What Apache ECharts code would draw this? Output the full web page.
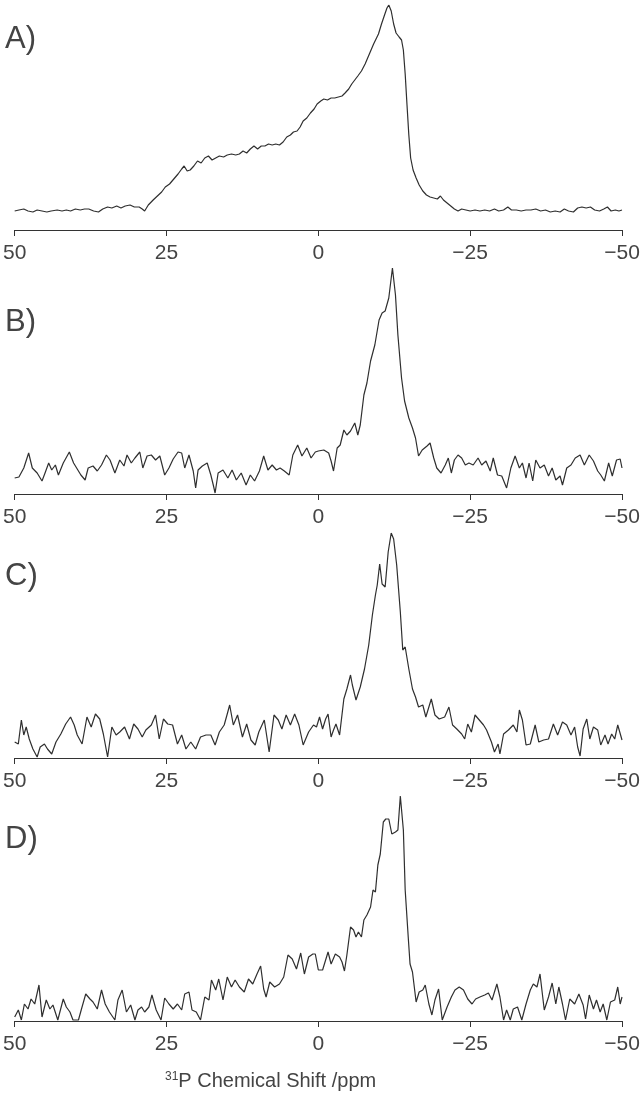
<!DOCTYPE html>
<html style="width:100%;height:100%;">
<head>
<meta charset="utf-8">
<title>31P spectra</title>
<script src="https://cdn.jsdelivr.net/npm/echarts@6/dist/echarts.min.js"></script>
<style>
  html, body { margin: 0; padding: 0; background: #ffffff; }
  #chart { width: 643px; height: 1098px; }
</style>
</head>
<body>
<div id="chart"></div>
<script>
// chemical shift (ppm) and intensity (a.u.)
const ppmA = [50,49.3,48.5,47.8,47,46.3,45.5,44.7,44,43,42.2,41.5,40.8,40,39.2,38.5,37.8,37,36.2,35.5,34.7,34,33.2,32.5,31.8,31,30.3,29.5,29,28.6,28,27.2,26.5,25.8,25.2,24.5,23.8,23.1,22.5,22.1,21.6,21.1,20.5,19.9,19.3,18.7,18.1,17.5,16.9,16.3,15.6,15,14.3,13.6,13,12.4,11.8,11.2,10.6,10,9.4,8.8,8.2,7.6,7,6.4,5.8,5.2,4.6,4.1,3.5,3,2.5,1.9,1.3,0.7,0.2,-0.4,-0.9,-1.5,-2.1,-2.7,-3.3,-3.9,-4.4,-5,-5.5,-6,-6.5,-7.1,-7.7,-8.4,-9.1,-9.9,-10.4,-10.9,-11.3,-11.6,-12,-12.4,-12.8,-13.3,-13.7,-14,-14.3,-14.6,-14.9,-15.2,-15.6,-16.1,-16.6,-17.2,-17.8,-18.4,-19,-19.6,-20.1,-20.6,-21.2,-21.8,-22.4,-23,-23.6,-24.3,-25,-25.8,-26.6,-27.4,-28.2,-29,-29.7,-30.5,-31.2,-31.8,-32.6,-33.4,-34.2,-35,-35.8,-36.6,-37.4,-38.2,-39,-39.8,-40.5,-41.2,-42,-42.7,-43.4,-44.1,-44.8,-45.5,-46.3,-47,-47.6,-48.2,-48.9,-49.5,-50];
const intA = [19,20,21,19,18,20,19,18,19,20,19,20,19,21,20,21,21,19,18,21,23,22,24,22,24,25,23,23,21,19,25,30,34,38,43,46,51,56,61,64,59,60,64,69,67,72,74,70,72,74,73,75,76,75,76,79,77,81,84,81,84,84,86,85,86,85,88,93,95,98,99,103,109,112,117,121,126,129,131,130,132,132,133,134,137,141,146,150,154,159,166,176,186,196,206,215,222,225,219,206,197,193,190,180,156,125,95,72,60,52,45,39,35,33,32,31,34,30,27,24,21,19,21,20,19,20,19,20,19,21,19,20,23,20,20,19,20,20,21,19,20,18,19,18,21,19,18,22,23,22,23,20,19,21,23,19,20,19,20];

const ppmB = [50,49.3,48.5,47.7,47.1,46.3,45.5,45,44.4,43.9,43.3,42.8,42,41,40.3,39.8,39.1,38.4,37.9,37.1,36.4,35.7,34.9,34.3,33.5,32.7,32,31.5,30.8,30.2,29.4,28.9,28.2,27.5,26.8,26.1,25.3,24.6,23.9,23.1,22.5,22,21.3,20.6,20.2,19.8,19.1,18.3,17.7,17.3,17,16.5,15.7,14.9,14.2,13.5,12.7,11.9,11.2,10.5,9.7,9,8.3,7.6,6.9,6.3,5.6,4.8,4.2,3.4,2.7,1.9,1.2,0.5,0,-0.9,-1.7,-2.1,-2.5,-3.1,-3.6,-4.2,-4.7,-5.3,-6,-6.5,-6.9,-7.5,-8,-8.6,-9.3,-10,-10.5,-11,-11.6,-12.2,-12.7,-13.1,-13.7,-14.2,-14.9,-15.5,-16,-16.5,-17.1,-17.9,-18.4,-19,-19.5,-20.2,-20.9,-21.4,-21.9,-22.4,-23,-23.6,-24.2,-24.8,-25.5,-26.3,-26.9,-27.6,-28.3,-28.8,-29.5,-30.2,-31,-31.7,-32.4,-33.1,-33.6,-34.2,-34.7,-35.3,-35.8,-36.5,-37.2,-37.9,-38.5,-39.1,-39.8,-40.2,-40.9,-41.6,-42.3,-43.1,-43.8,-44.6,-45.3,-46,-46.5,-47.1,-47.8,-48.4,-49.1,-49.7,-50];
const intB = [16,17,26,41,26,21,13,21,31,24,29,19,31,42,31,26,19,14,26,28,23,29,39,34,21,34,28,39,31,36,42,26,38,39,34,38,19,26,35,42,41,26,39,23,6,24,28,31,19,9,1,21,24,16,24,14,21,9,19,13,23,38,24,29,24,26,23,19,39,49,38,46,36,42,43,44,41,33,23,46,49,64,59,63,71,59,69,99,111,133,149,174,181,183,196,226,199,159,116,93,76,66,56,38,44,48,51,36,26,21,29,36,21,34,39,36,29,31,29,36,29,33,23,36,19,18,6,26,38,26,31,16,31,13,34,26,29,18,26,14,18,9,26,29,36,39,29,39,33,23,19,13,31,18,34,35,26];

const ppmC = [50,49.4,48.9,48.5,48.1,47.6,47,46.3,45.8,45.1,44.6,43.9,43.2,42.4,41.6,40.8,40.2,39.7,38.9,38.1,37.4,36.7,36,35.4,34.7,34,33.3,32.7,31.9,31.1,30.4,29.7,29,28.4,27.5,26.8,26.2,25.5,24.8,24,23.2,22.5,21.8,21,20.2,19.4,18.5,17.7,17,16.3,15.5,15,14.6,14,13.3,12.5,11.8,11.1,10.4,9.8,8.9,8.1,7.3,6.6,6,5.3,4.6,3.9,3.2,2.5,1.6,0.8,0.3,-0.2,-0.7,-1.2,-1.6,-2.1,-2.5,-2.9,-3.5,-4.2,-4.7,-5.3,-5.6,-6.2,-6.9,-7.6,-8.3,-8.9,-9.4,-9.7,-10.1,-10.5,-11,-11.5,-12,-12.4,-12.9,-13.5,-13.9,-14.3,-14.9,-15.5,-16,-16.5,-17.2,-17.7,-18.6,-19.2,-19.9,-20.8,-21.5,-22.1,-22.8,-23.6,-24.1,-24.6,-25.2,-25.8,-26.5,-27.2,-27.7,-28.5,-29,-29.6,-29.9,-30.5,-31.3,-32.1,-32.7,-33.1,-33.6,-34.2,-34.9,-35.7,-36.3,-37.1,-37.9,-38.7,-39.4,-40.2,-40.9,-41.6,-42.2,-42.7,-43.1,-43.6,-44.2,-44.7,-45.3,-46,-46.5,-47.2,-47.7,-48.3,-48.8,-49.3,-50];
const intC = [16,14,38,23,31,19,9,1,11,14,9,4,16,24,34,41,33,23,14,41,31,44,39,24,1,31,23,26,31,19,34,29,21,28,33,43,19,39,34,33,14,23,9,16,9,21,23,23,13,26,33,44,53,33,43,21,34,18,13,26,38,6,43,38,29,43,33,44,33,13,26,33,31,41,29,39,44,21,28,34,23,59,69,83,73,58,71,89,113,143,163,173,194,174,171,206,225,219,193,146,108,111,89,69,61,51,53,41,59,43,39,41,51,33,29,24,19,34,26,43,38,33,28,16,6,14,4,24,28,33,26,48,38,13,14,33,16,18,19,34,23,36,33,23,31,11,2,29,39,19,31,28,13,23,14,24,19,33,18];

const ppmD = [50,49.4,48.9,48.4,47.8,47.3,46.7,46,45.5,44.8,44.2,43.7,42.9,42,41.5,40.9,40.4,39.5,39,38.3,37.6,37.1,36.4,35.7,35.1,34.4,33.5,33,32.3,31.6,30.9,30.2,29.7,29.1,28.6,27.9,27.4,26.7,25.9,25.3,24.6,23.9,23.2,22.5,22,21.3,20.8,20.1,19.4,18.7,18,17.6,16.9,16.4,15.7,15,14.3,13.7,13,12.2,11.5,10.8,10.1,9.5,9,8.6,8,7.2,6.4,5.7,5,4.3,3.6,2.9,2.3,1.6,0.9,0.5,0,-0.7,-1.6,-2.1,-2.8,-3.5,-3.9,-4.3,-4.7,-5.3,-5.8,-6.2,-6.6,-7.1,-7.5,-8,-8.6,-9,-9.4,-9.8,-10.2,-10.7,-11.1,-11.6,-12.1,-12.7,-13.1,-13.5,-14,-14.3,-14.8,-15.1,-15.5,-16.1,-16.6,-17.2,-17.6,-18.2,-18.7,-19.2,-19.8,-20.4,-21.2,-21.9,-22.5,-23.2,-23.9,-24.6,-25.3,-25.9,-26.6,-27.4,-28,-28.6,-29.4,-29.9,-30.5,-31,-31.6,-32.1,-32.8,-33.5,-34.2,-34.9,-35.4,-36,-36.5,-37.2,-37.9,-38.5,-39.1,-39.6,-40.2,-40.7,-41.4,-42.2,-42.9,-43.6,-44,-44.6,-45.3,-45.8,-46.4,-46.9,-47.5,-48.1,-48.8,-49.3,-49.7,-50];
const intD = [4,11,1,17,12,22,17,36,4,21,12,16,1,22,14,9,1,1,12,27,22,19,12,31,17,9,1,21,31,9,16,1,11,14,9,14,26,11,1,23,17,12,17,11,27,29,11,9,1,24,21,41,31,42,21,44,34,41,34,29,42,37,47,55,32,24,39,34,37,44,66,62,52,68,47,64,67,67,51,51,69,57,67,64,59,50,66,94,91,84,89,84,101,106,114,131,129,156,167,199,202,202,187,189,191,225,191,131,84,57,49,19,29,31,36,17,6,21,32,1,14,24,31,34,31,22,17,22,24,26,28,21,37,24,1,11,1,12,14,1,17,31,37,34,47,11,24,38,17,34,17,1,22,17,27,16,2,26,12,21,9,17,1,19,21,34,17,24];

const panelLabels = ['A)', 'B)', 'C)', 'D)'];
const xTicks = [50, 25, 0, -25, -50];

document.addEventListener('DOMContentLoaded', function () {
    const chart = echarts.init(document.getElementById('chart'));

    const spectra = [[ppmA, intA], [ppmB, intB], [ppmC, intC], [ppmD, intD]];
    // top and axis-line position of each panel
    const tops = [5, 268, 533, 796];
    const axisY = [230, 494, 758, 1021];
    const textColor = '#444';

    const grid = [], xAxis = [], yAxis = [], series = [];
    spectra.forEach(function (s, i) {
        grid.push({ left: 14, right: 21, top: tops[i], height: axisY[i] - tops[i] });
        xAxis.push({
            gridIndex: i, type: 'value', min: -50, max: 50, interval: 25, inverse: true,
            axisLine: { lineStyle: { color: '#333', width: 1 } },
            axisTick: { length: 6, lineStyle: { color: '#333' } },
            splitLine: { show: false },
            axisLabel: {
                margin: 13, color: textColor, fontSize: 21, fontFamily: 'Liberation Sans',
                formatter: v => xTicks.includes(v) ? String(v).replace('-', '\u2212') : ''
            }
        });
        const peak = Math.max.apply(null, s[1]);
        yAxis.push({ gridIndex: i, type: 'value', min: 0, max: peak, show: false });
        series.push({
            type: 'line', xAxisIndex: i, yAxisIndex: i, showSymbol: false, silent: true,
            data: s[0].map((p, k) => [p, s[1][k]]),
            lineStyle: { color: '#2f2f2f', width: 1.2 }
        });
    });

    const labelY = [41, 324, 578, 841];
    const graphic = panelLabels.map((t, i) => ({
        type: 'text', left: 5, top: labelY[i] - 17,
        style: { text: t, fill: textColor, fontSize: 31, fontFamily: 'Liberation Sans' }
    }));
    graphic.push({
        type: 'text', left: 165, top: 1071,
        style: {
            text: '{s|31}P Chemical Shift /ppm',
            fill: textColor, fontSize: 20, fontFamily: 'Liberation Sans',
            rich: { s: { fontSize: 12, verticalAlign: 'top', padding: [0, 0, 8, 0], fill: textColor, fontFamily: 'Liberation Sans' } }
        }
    });

    chart.setOption({
        animation: false,
        grid: grid, xAxis: xAxis, yAxis: yAxis, series: series, graphic: graphic
    });
});
</script>
</body>
</html>
